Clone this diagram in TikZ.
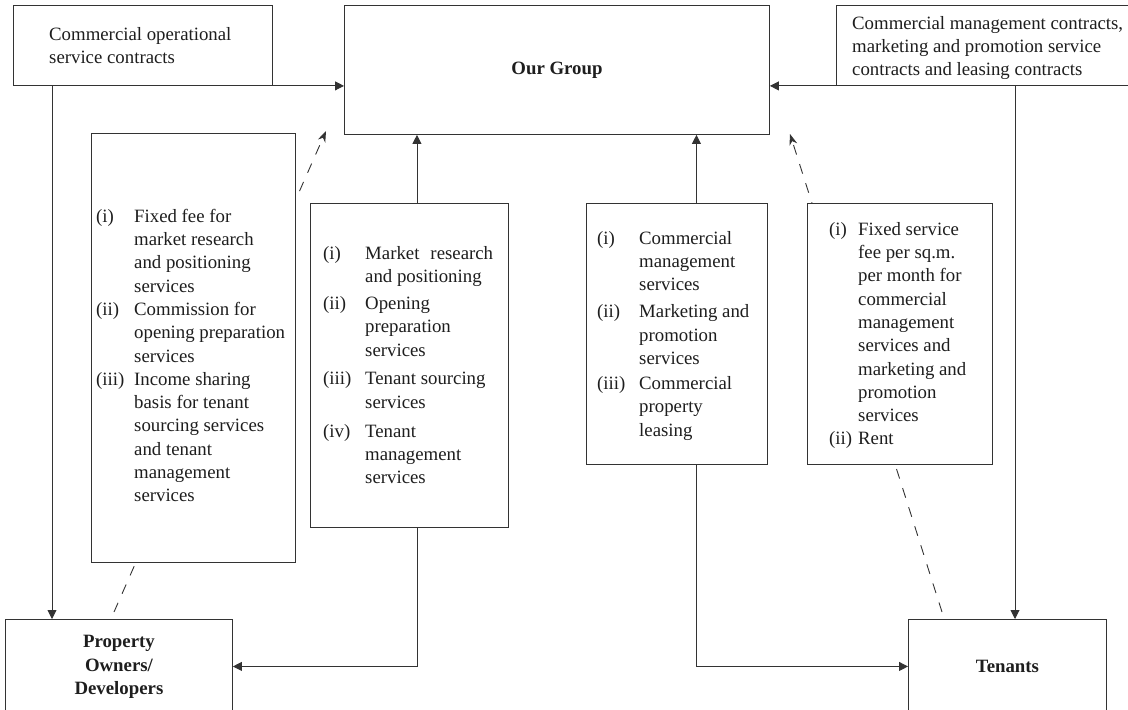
\documentclass[tikz,border=0pt]{standalone}
\usepackage{fontspec}
\setmainfont{Liberation Serif}
\usetikzlibrary{arrows.meta}
\pgfdeclarelayer{bg}
\pgfsetlayers{bg,main}
\definecolor{linec}{HTML}{333333}
\definecolor{textc}{HTML}{1E1E1E}
\begin{document}
\begin{tikzpicture}[x=1pt,y=-1pt,
  every node/.style={text=textc, font=\fontsize{18.8}{23.3}\selectfont},
  box/.style={draw=linec, line width=0.9pt, fill=white, inner sep=0pt, anchor=north west},
  bbox/.style={box, font=\fontsize{18.8}{23.3}\selectfont\bfseries},
  lbl/.style={inner sep=0pt, anchor=north west, align=left},
  arr/.style={draw=linec, line width=0.9pt, -{Triangle[length=9pt,width=9pt]}},
  darr/.style={draw=linec, line width=0.9pt, dash pattern=on 10pt off 10pt, -{Stealth[length=11pt,width=8pt]}}
]
\useasboundingbox (0,0) rectangle (1128,710);
\clip (0,0) rectangle (1128,710);

% boxes
\node[box, minimum width=259pt, minimum height=80pt] (tl) at (13,5) {};
\node[bbox, minimum width=425pt, minimum height=129pt] (og) at (344,5) {\raisebox{-2pt}{Our Group}};
\node[box, minimum width=300pt, minimum height=80pt] (tr) at (836,5) {};
\node[box, minimum width=204pt, minimum height=429pt] (lb) at (91,133) {};
\node[box, minimum width=198pt, minimum height=324pt] (b2) at (310,203) {};
\node[box, minimum width=181pt, minimum height=261pt] (b3) at (586,203) {};
\node[box, minimum width=185pt, minimum height=261pt] (b4) at (807,203) {};
\node[bbox, minimum width=227pt, minimum height=94pt] (po) at (5,619) {\raisebox{-2pt}{\begin{tabular}{@{}c@{}}Property\\Owners/\\Developers\end{tabular}}};
\node[bbox, minimum width=198pt, minimum height=94pt] (tn) at (908,619) {Tenants};

% texts
\node[lbl] (tlt) at (49,23.7) {\begin{tabular}{@{}l@{}}Commercial operational\\service contracts\end{tabular}};
\node[lbl] (trt) at (852,12.7) {\begin{tabular}{@{}l@{}}Commercial management contracts,\\marketing and promotion service\\contracts and leasing contracts\end{tabular}};
\node[lbl] (lbt) at (96,205.7) {\begin{tabular}{@{}p{38pt}@{}l@{}}
(i) & Fixed fee for\\
 & market research\\
 & and positioning\\
 & services\\
(ii) & Commission for\\
 & opening preparation\\
 & services\\
(iii) & Income sharing\\
 & basis for tenant\\
 & sourcing services\\
 & and tenant\\
 & management\\
 & services
\end{tabular}};
\node[lbl] (b2t) at (323,242.7) {\begin{tabular}{@{}p{42pt}@{}l@{}}
(i) & Market\hspace{11pt}research\\
 & and positioning\\[3.7pt]
(ii) & Opening\\
 & preparation\\
 & services\\[5.5pt]
(iii) & Tenant sourcing\\
 & services\\[5.5pt]
(iv) & Tenant\\
 & management\\
 & services
\end{tabular}};
\node[lbl] (b3t) at (597,227.7) {\begin{tabular}{@{}p{42pt}@{}l@{}}
(i) & Commercial\\
 & management\\
 & services\\[3.8pt]
(ii) & Marketing and\\
 & promotion\\
 & services\\[1.8pt]
(iii) & Commercial\\
 & property\\
 & leasing
\end{tabular}};
\node[lbl] (b4t) at (829,218.7) {\begin{tabular}{@{}p{29pt}@{}l@{}}
(i) & Fixed service\\
 & fee per sq.m.\\
 & per month for\\
 & commercial\\
 & management\\
 & services and\\
 & marketing and\\
 & promotion\\
 & services\\
(ii) & Rent
\end{tabular}};

% solid connectors
\draw[arr] (tl.south east) -- (tl.south east -| og.west);
\draw[arr] ([xshift=39pt]tl.south west) -- ([xshift=39pt]tl.south west |- po.north);
\draw[arr] (tr.south west) -- (tr.south west -| og.east);
\draw[arr] ([xshift=179pt]tr.south west) -- ([xshift=179pt]tr.south west |- tn.north);
\draw[arr] ([xshift=7.5pt]b2.north) -- ([xshift=7.5pt]b2.north |- og.south);
\draw[arr] ([xshift=7.5pt]b2.south) |- (po.east);
\draw[arr] ([xshift=19.5pt]b3.north) -- ([xshift=19.5pt]b3.north |- og.south);
\draw[arr] ([xshift=19.5pt]b3.south) |- (tn.west);

% dashed connectors (behind the boxes)
\coordinate (d1s) at (114,612);
\coordinate (d1e) at (326,131);
\coordinate (d2s) at (942,612);
\coordinate (d2e) at (790,134);
\begin{pgfonlayer}{bg}
\draw[darr] (d1s) -- (d1e);
\draw[darr] (d2s) -- (d2e);
\end{pgfonlayer}
\end{tikzpicture}
\end{document}
